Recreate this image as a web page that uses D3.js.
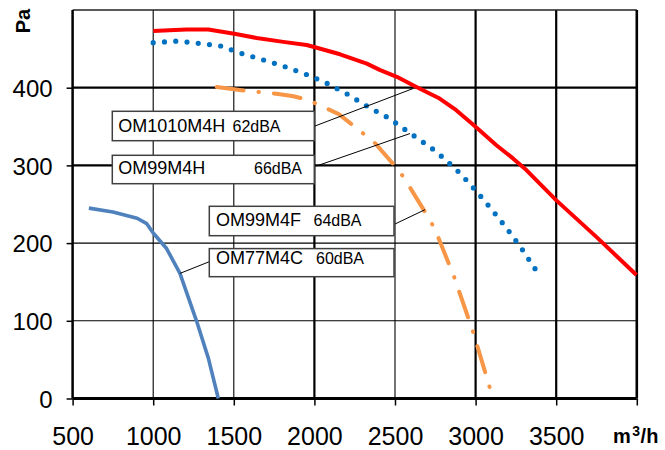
<!DOCTYPE html>
<html>
<head>
<meta charset="utf-8">
<script src="https://cdn.jsdelivr.net/npm/d3@7/dist/d3.min.js"></script>
<style>
  html, body { margin: 0; padding: 0; background: #fff; }
  svg { display: block; }
  text { font-family: "Liberation Sans", Arial, sans-serif; fill: #000; }
</style>
</head>
<body>
<svg id="chart" width="665" height="450"></svg>
<script>
// ---------- data ----------
const xTicks = [500, 1000, 1500, 2000, 2500, 3000, 3500, 4000];
const xTickLabels = ["500", "1000", "1500", "2000", "2500", "3000", "3500", ""];
const yTicks = [0, 100, 200, 300, 400, 500];
const xUnit = "m³/h";
const yUnit = "Pa";

// OM1010M4H (red, solid)
const om1010Flow = [1000, 1100, 1208, 1342, 1512, 1642, 1807, 1952, 2004, 2159, 2325, 2405, 2511, 2633, 2777, 2880, 2998, 3129, 3232, 3315, 3501, 3749, 3998];
const om1010Pa   = [473, 474, 475, 475, 469, 464, 459, 455, 452, 443, 431, 423, 414, 401, 386, 371, 350, 326, 309, 294, 255, 208, 159];

// OM99M4H (blue, dotted)
const om99hFlow = [1000, 1152, 1286, 1414, 1549, 1680, 1818, 1964, 2074, 2202, 2336, 2461, 2597, 2722, 2804, 2908, 3012, 3101, 3193, 3282, 3365, 3413];
const om99hPa   = [458, 460, 457, 454, 444, 436, 427, 416, 406, 392, 375, 361, 341, 323, 309, 289, 265, 243, 219, 194, 168, 156];

// OM99M4F (orange, dash-dot)
const om99fFlow = [1394, 1580, 1776, 1870, 1964, 2152, 2370, 2526, 2577, 2722, 2763, 2866, 2987, 3095];
const om99fPa   = [401, 396, 392, 389, 384, 366, 330, 293, 277, 228, 210, 157, 84, 9];

// OM77M4C (steel blue, solid)
const om77Flow = [601, 750, 900, 960, 1000, 1083, 1166, 1270, 1342, 1404];
const om77Pa   = [245, 240, 232, 225, 213, 193, 161, 99, 52, 0];

// labels: name, noise, anchor point on curve (flow, Pa)
const labelNames  = ["OM1010M4H", "OM99M4H", "OM99M4F", "OM77M4C"];
const labelNoise  = ["62dBA", "66dBA", "64dBA", "60dBA"];
const anchorFlow  = [2613, 2593, 2686, 1166];
const anchorPa    = [399, 341, 243, 161];

// ---------- layout ----------
const svg = d3.select("#chart");
const x = d3.scaleLinear().domain([500, 4000]).range([72.6, 636.8]);
const y = d3.scaleLinear().domain([0, 500]).range([398.5, 10]);

const heavyX = new Set([2000, 3000, 3500]);
const heavyY = new Set([300, 400]);

// grid
const grid = svg.append("g");
grid.selectAll("line.vx").data(xTicks.filter(v => v > 500 && v < 4000)).join("line")
  .attr("x1", d => x(d)).attr("x2", d => x(d))
  .attr("y1", y(500)).attr("y2", y(0))
  .attr("stroke", "#000")
  .attr("stroke-width", d => heavyX.has(d) ? 2.2 : 1.1);
grid.selectAll("line.hy").data(yTicks.filter(v => v > 0 && v < 500)).join("line")
  .attr("x1", x(500)).attr("x2", x(4000))
  .attr("y1", d => y(d)).attr("y2", d => y(d))
  .attr("stroke", "#000")
  .attr("stroke-width", d => heavyY.has(d) ? 2.2 : 1.1);
grid.append("line").attr("x1", x(500)).attr("x2", x(4000)).attr("y1", y(500)).attr("y2", y(500))
  .attr("stroke", "#222").attr("stroke-width", 1.6);
grid.append("line").attr("x1", x(4000)).attr("x2", x(4000)).attr("y1", y(500)).attr("y2", y(0))
  .attr("stroke", "#000").attr("stroke-width", 2.6);

// axes
const xAxis = d3.axisBottom(x).tickValues(xTicks).tickSize(7)
  .tickFormat((d, i) => xTickLabels[i]);
const gx = svg.append("g").attr("transform", `translate(0,${y(0)})`).call(xAxis);
gx.select(".domain").attr("stroke-width", 3).attr("d", `M${x(500)},0H${x(4000)}`);
gx.selectAll(".tick line").attr("stroke-width", 1.5);
gx.selectAll(".tick text").attr("font-size", 25).attr("dy", null).attr("y", 46.5)
  .style("font-family", '"Liberation Sans", Arial, sans-serif');

const yAxis = d3.axisLeft(y).tickValues(yTicks.filter(v => v < 500)).tickSize(6).tickFormat(d3.format("d"));
const gy = svg.append("g").attr("transform", `translate(${x(500)},0)`).call(yAxis);
gy.select(".domain").attr("stroke-width", 2.5).attr("d", `M0,${y(500)}V${y(0)}`);
gy.selectAll(".tick line").attr("stroke-width", 1.5);
gy.selectAll(".tick text").attr("font-size", 24).attr("x", -20).attr("dy", "0.36em")
  .style("font-family", '"Liberation Sans", Arial, sans-serif');

// unit labels
svg.append("text").attr("transform", "translate(29.5,21) rotate(-90)")
  .attr("text-anchor", "middle").attr("font-size", 20).attr("font-weight", "bold").text(yUnit);
const ux = svg.append("text").attr("x", 613).attr("y", 442.5).attr("font-size", 20).attr("font-weight", "bold");
ux.append("tspan").text("m");
ux.append("tspan").attr("font-size", 14).attr("dy", -7).attr("dx", 1.5).text("3");
ux.append("tspan").attr("dy", 7).attr("dx", 0.5).text("/h");

// curves
const line = d3.line().x(d => x(d[0])).y(d => y(d[1]));
const zip = (a, b) => a.map((v, i) => [v, b[i]]);

svg.append("path").datum(zip(om77Flow, om77Pa)).attr("d", line)
  .attr("fill", "none").attr("stroke", "#4F81BD").attr("stroke-width", 3.6).attr("stroke-linejoin", "round");

svg.append("path").datum(zip(om99fFlow, om99fPa)).attr("d", line)
  .attr("fill", "none").attr("stroke", "#F79646").attr("stroke-width", 4)
  .attr("stroke-linecap", "round").attr("stroke-dasharray", "27 15 0.5 15");

svg.append("path").datum(zip(om99hFlow, om99hPa)).attr("d", line)
  .attr("fill", "none").attr("stroke", "#0070C0").attr("stroke-width", 5.2)
  .attr("stroke-linecap", "round").attr("stroke-dasharray", "0 11.3");

svg.append("path").datum(zip(om1010Flow, om1010Pa)).attr("d", line)
  .attr("fill", "none").attr("stroke", "#FF0000").attr("stroke-width", 4).attr("stroke-linejoin", "round");

// label boxes (layout)
const boxes = [
  { x0: 112.3, y0: 111.3, w: 202, h: 29.4, tx: 118.3, ty: 132.3, nx: 232.5, lx: 315, ly: 126 },
  { x0: 112.3, y0: 155.3, w: 202, h: 28.4, tx: 118.3, ty: 174.3, nx: 254, lx: 316.5, ly: 166 },
  { x0: 209.3, y0: 206.3, w: 184.7, h: 29.4, tx: 216, ty: 225.7, nx: 313.5, lx: 395, ly: 224 },
  { x0: 209.3, y0: 248.6, w: 184.7, h: 28.1, tx: 216, ty: 263.5, nx: 316, lx: 209.3, ly: 261.7 }
];

const ann = svg.append("g");
labelNames.forEach((name, i) => {
  const b = boxes[i];
  ann.append("line")
    .attr("x1", b.lx).attr("y1", b.ly)
    .attr("x2", x(anchorFlow[i])).attr("y2", y(anchorPa[i]))
    .attr("stroke", "#000").attr("stroke-width", 1);
  ann.append("rect").attr("x", b.x0).attr("y", b.y0).attr("width", b.w).attr("height", b.h)
    .attr("fill", "#fff").attr("stroke", "#404040").attr("stroke-width", 1.5);
  ann.append("text").attr("x", b.tx).attr("y", b.ty).attr("font-size", 18).text(name);
  ann.append("text").attr("x", b.nx).attr("y", b.ty).attr("font-size", 16).text(labelNoise[i]);
});
</script>
</body>
</html>
